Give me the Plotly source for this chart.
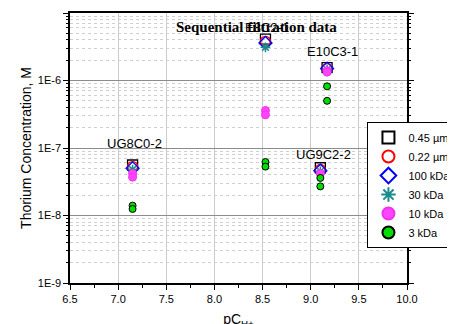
import math
import plotly.graph_objects as go

# Sample positions (pCH+)
x_ug8 = 7.15
x_e8 = 8.53
x_e10 = 9.17
x_ug9 = 9.10

series_names = ["0.45 µm", "0.22 µm", "100 kDa", "30 kDa", "10 kDa", "3 kDa"]

x_045 = [x_ug8, x_e8, x_e10, x_ug9]
y_045 = [5.6e-8, 4.1e-6, 1.55e-6, 5.1e-8]

x_022 = [x_ug8, x_e8, x_e10, x_ug9]
y_022 = [5.3e-8, 3.8e-6, 1.5e-6, 4.8e-8]

x_100 = [x_ug8, x_e8, x_e10, x_ug9]
y_100 = [5.0e-8, 3.6e-6, 1.5e-6, 4.6e-8]

x_30 = [x_ug8, x_e8, x_e10, x_ug9]
y_30 = [4.8e-8, 3.1e-6, 1.45e-6, 4.5e-8]

x_10 = [x_ug8, x_ug8, x_e8, x_e8, x_e10, x_e10, x_ug9]
y_10 = [4.2e-8, 3.7e-8, 3.6e-7, 3.1e-7, 1.4e-6, 1.33e-6, 4.2e-8]

x_3 = [x_ug8, x_ug8, x_e8, x_e8, x_e10, x_e10, x_ug9, x_ug9]
y_3 = [1.4e-8, 1.25e-8, 6.2e-8, 5.3e-8, 8.2e-7, 5.0e-7, 3.6e-8, 2.7e-8]

label_text = ["UG8C0-2", "E8C2-1", "E10C3-1", "UG9C2-2"]
label_x = [7.17, 8.55, 9.23, 9.13]
label_y = [1.18e-7, 6.2e-6, 2.65e-6, 7.9e-8]

y_tickvals = [1e-9, 1e-8, 1e-7, 1e-6, 1e-5]
y_ticktext = ["1E-9", "1E-8", "1E-7", "1E-6", "1E-5"]
y_minor_vals = [m * d for d in [1e-9, 1e-8, 1e-7, 1e-6] for m in range(2, 10)]

fig = go.Figure()

styles = [
    (x_045, y_045, dict(symbol="square-open", color="black", size=10, line=dict(width=1.3))),
    (x_022, y_022, dict(symbol="circle-open", color="red", size=10, line=dict(width=1.3))),
    (x_100, y_100, dict(symbol="diamond-open", color="blue", size=10, line=dict(width=1.3))),
    (x_30, y_30, dict(symbol="asterisk-open", color="#1a8a8a", size=8, line=dict(width=1.5, color="#1a8a8a"))),
    (x_10, y_10, dict(symbol="circle", color="#ff44ff", size=8, line=dict(width=1, color="#ee33ee"))),
    (x_3, y_3, dict(symbol="circle", color="#00dd00", size=7, line=dict(width=1, color="black"))),
]
for name, (xs, ys, mk) in zip(series_names, styles):
    fig.add_trace(go.Scatter(x=xs, y=ys, mode="markers", name=name, marker=mk))

# helper trace to activate the minor-grid overlay axis
fig.add_trace(go.Scatter(x=[None], y=[None], yaxis="y2", showlegend=False, hoverinfo="skip"))

for t, lx, ly in zip(label_text, label_x, label_y):
    fig.add_annotation(x=lx, y=math.log10(ly), yref="y", xref="x", text=t, showarrow=False,
                       font=dict(family="Liberation Sans, Arial", size=13, color="black"))

fig.add_annotation(x=0.552, y=0.948, xref="paper", yref="paper", xanchor="center", yanchor="middle",
                   text="<b>Sequential filtration data</b>", showarrow=False,
                   font=dict(family="Liberation Serif, Times New Roman", size=15, color="black"))

fig.update_layout(
    width=455, height=324,
    margin=dict(l=62, r=56, t=5, b=49, autoexpand=False),
    paper_bgcolor="white", plot_bgcolor="white",
    font=dict(family="Liberation Sans, Arial", size=11, color="black"),
    showlegend=True,
    legend=dict(xref="container", yref="container", x=0.79, y=0.648,
                xanchor="left", yanchor="top",
                bordercolor="black", borderwidth=1, bgcolor="white",
                font=dict(size=11), itemsizing="constant", tracegroupgap=0),
    yaxis2=dict(type="log", range=[-9, -5], overlaying="y", side="left",
                tickvals=y_minor_vals, ticktext=[""] * len(y_minor_vals),
                ticks="outside", ticklen=3, tickcolor="black", mirror="ticks",
                showline=False, showgrid=True, gridcolor="#cfcfcf", griddash="dot",
                gridwidth=1, zeroline=False, automargin=False, layer="below traces"),
)

fig.update_xaxes(
    range=[6.5, 10.0], dtick=0.5, tick0=6.5, tickformat=".1f",
    showline=True, linecolor="black", linewidth=1.5, mirror=True,
    ticks="outside", ticklen=5, tickcolor="black",
    showgrid=True, gridcolor="#cccccc", gridwidth=1,
    minor=dict(dtick=0.25, ticks="outside", ticklen=3, tickcolor="black", showgrid=False),
    zeroline=False, automargin=False,
    title=dict(text="pC<sub>H+</sub>", font=dict(size=14), standoff=10),
    tickfont=dict(size=11),
)

fig.update_layout(yaxis=dict(
    type="log", range=[-9, -5], tickvals=y_tickvals, ticktext=y_ticktext,
    showline=True, linecolor="black", linewidth=1.5, mirror="ticks",
    ticks="outside", ticklen=5, tickcolor="black",
    showgrid=True, gridcolor="#8c8c8c", gridwidth=1,
    zeroline=False, automargin=False,
    title=dict(text="Thorium Concentration, M", font=dict(size=14), standoff=3),
    tickfont=dict(size=11),
))

fig.write_html("out.html")
